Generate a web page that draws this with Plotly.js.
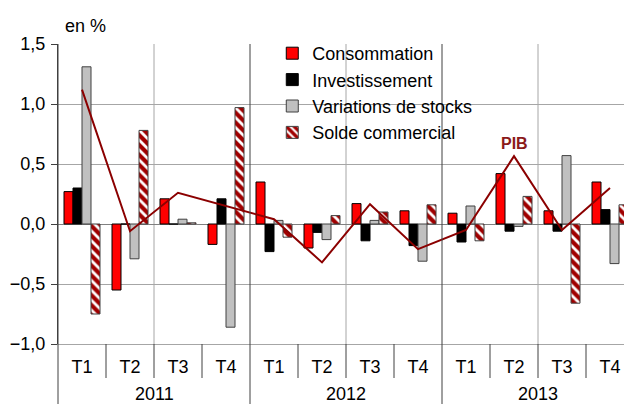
<!DOCTYPE html>
<html>
<head>
<meta charset="utf-8">
<script src="https://cdn.plot.ly/plotly-3.0.1.min.js"></script>
<style>
html, body { margin:0; padding:0; overflow:hidden; background:#fff; }
#chart { width:640px; height:404px; }
</style>
</head>
<body>
<div id="chart"></div>
<script>
// ---- data ----
var years = ['2011','2011','2011','2011','2012','2012','2012','2012','2013','2013','2013','2013'];
var quarters = ['T1','T2','T3','T4','T1','T2','T3','T4','T1','T2','T3','T4'];
var consommation = [0.27, -0.55, 0.21, -0.17, 0.35, -0.20, 0.17, 0.11, 0.09, 0.42, 0.11, 0.35];
var investissement = [0.30, 0.00, 0.00, 0.21, -0.23, -0.07, -0.14, -0.18, -0.15, -0.06, -0.06, 0.12];
var stocks = [1.31, -0.29, 0.04, -0.86, 0.03, -0.13, 0.03, -0.31, 0.15, -0.02, 0.57, -0.33];
var solde = [-0.75, 0.78, 0.01, 0.97, -0.11, 0.07, 0.10, 0.16, -0.14, 0.23, -0.66, 0.16];
var pib = [1.12, -0.06, 0.26, 0.15, 0.04, -0.32, 0.165, -0.21, -0.05, 0.565, -0.05, 0.30];
var seriesNames = ['Consommation', 'Investissement', 'Variations de stocks', 'Solde commercial'];

var FONT = 'Liberation Sans, Arial, sans-serif';
var nQ = quarters.length;
var x = quarters.map(function(q, i){ return years[i] + ' ' + q; });

var traces = [
  {type:'bar', name:seriesNames[0], x:x, y:consommation,
   marker:{color:'#ff0000', line:{color:'#000000', width:1}}},
  {type:'bar', name:seriesNames[1], x:x, y:investissement,
   marker:{color:'#000000', line:{color:'#000000', width:1}}},
  {type:'bar', name:seriesNames[2], x:x, y:stocks,
   marker:{color:'#c0c0c0', line:{color:'#404040', width:1}}},
  {type:'bar', name:seriesNames[3], x:x, y:solde,
   marker:{color:'#ffffff', line:{color:'#404040', width:1},
           pattern:{shape:'\\', fgcolor:'#a00000', bgcolor:'#ffffff', size:7, solidity:0.6}}},
  {type:'scatter', mode:'lines', name:'PIB', x:x, y:pib, showlegend:false,
   line:{color:'#8b0000', width:2}}
];

var shapes = [];
var annotations = [];
// white panel behind the legend (hides grid lines there)
shapes.push({type:'rect', xref:'paper', yref:'paper', x0:0.392, x1:0.755, y0:0.68, y1:0.992,
  fillcolor:'#ffffff', line:{width:0}, layer:'between'});
// vertical lines: light grid every two quarters, dark year dividers through the label area
var groupStart = 0;
for (var k = 0; k <= nQ; k++) {
  var yearEdge = (k === 0 || k === nQ || years[k] !== years[k-1]);
  if (yearEdge) {
    shapes.push({type:'line', xref:'x domain', yref:'paper', x0:k/nQ, x1:k/nQ, y0:-0.2, y1:1,
      line:{color:'#404040', width:1}});
    if (k > 0) {
      annotations.push({xref:'x domain', yref:'paper', x:(groupStart + k)/2/nQ, y:-0.167,
        xanchor:'center', yanchor:'middle', showarrow:false, text:years[k-1],
        font:{family:FONT, size:18, color:'#000000'}});
      groupStart = k;
    }
  } else {
    if (k % 2 === 0) {
      shapes.push({type:'line', xref:'x domain', yref:'paper', x0:k/nQ, x1:k/nQ, y0:0, y1:1,
        line:{color:'#a6a6a6', width:1}, layer:'below'});
    }
    // separator between quarter labels
    shapes.push({type:'line', xref:'x domain', yref:'paper', x0:k/nQ, x1:k/nQ, y0:0, y1:-34/300,
      line:{color:'#404040', width:1}});
  }
}
annotations.push({xref:'paper', yref:'paper', x:0.008, y:1.06, xanchor:'left', yanchor:'middle', showarrow:false,
  text:'en %', font:{family:FONT, size:18, color:'#000000'}});
annotations.push({xref:'x domain', yref:'y', x:9.5/nQ, y:0.675, xanchor:'center', yanchor:'middle', showarrow:false,
  text:'<b>PIB</b>', font:{family:FONT, size:16, color:'#8b1a1a'}});

var layout = {
  width:640, height:404,
  margin:{l:58, r:6, t:44, b:60},
  paper_bgcolor:'#ffffff', plot_bgcolor:'#ffffff',
  font:{family:FONT, size:18, color:'#000000'},
  separators:', ',
  barmode:'group', bargap:0.25, bargroupgap:0,
  showlegend:true,
  legend:{x:0.372, y:1.03, xanchor:'left', yanchor:'top', bgcolor:'rgba(0,0,0,0)',
          font:{family:FONT, size:18, color:'#000000'}, traceorder:'normal'},
  xaxis:{type:'category', range:[-0.5, nQ - 0.5], tickvals:x, ticktext:quarters,
         showgrid:false, showline:true, linecolor:'#a6a6a6', linewidth:1,
         ticks:'', ticklabelstandoff:6,
         tickfont:{family:FONT, size:18, color:'#000000'}},
  yaxis:{range:[-1, 1.5], dtick:0.5, tickformat:'.1f', showgrid:true, gridcolor:'#a6a6a6', gridwidth:1,
         zeroline:true, zerolinecolor:'#808080', zerolinewidth:1,
         showline:true, linecolor:'#404040', linewidth:1,
         ticks:'outside', ticklen:6, tickcolor:'#404040', ticklabelstandoff:2,
         tickfont:{family:FONT, size:18, color:'#000000'}},
  shapes:shapes,
  annotations:annotations
};

Plotly.newPlot('chart', traces, layout, {displayModeBar:false, staticPlot:true});
</script>
</body>
</html>
